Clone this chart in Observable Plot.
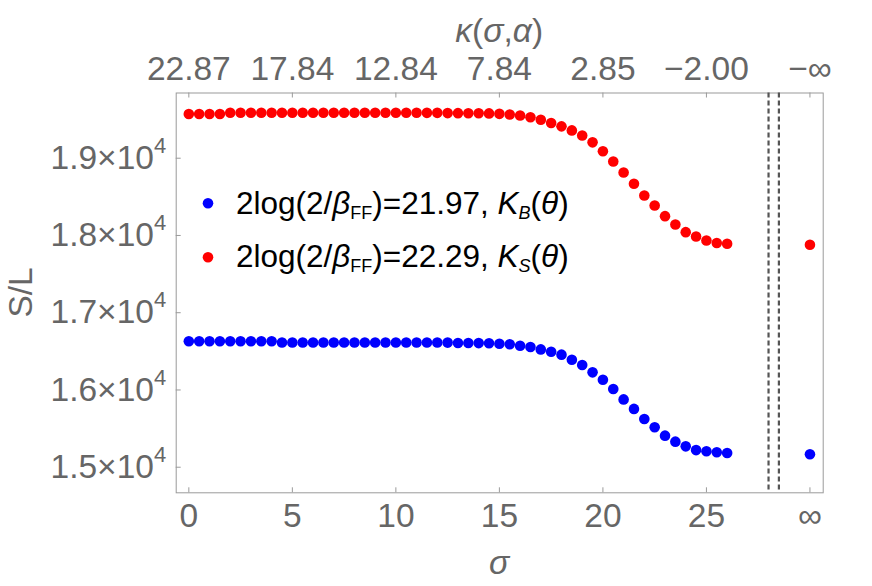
<!DOCTYPE html>
<html><head><meta charset="utf-8">
<script src="https://cdn.jsdelivr.net/npm/d3@7"></script>
<script src="https://cdn.jsdelivr.net/npm/@observablehq/plot@0.6"></script>
<style>body{margin:0;background:#fff}</style>
</head><body><div id="chart"></div>
<script>
// ---- data ----
const sigma = [0,0.5,1,1.5,2,2.5,3,3.5,4,4.5,5,5.5,6,6.5,7,7.5,8,8.5,9,9.5,10,10.5,11,11.5,12,12.5,13,13.5,14,14.5,15,15.5,16,16.5,17,17.5,18,18.5,19,19.5,20,20.5,21,21.5,22,22.5,23,23.5,24,24.5,25,25.5,26];
const redS = [19572,19572,19572,19572,19588,19588,19588,19588,19588,19588,19588,19588,19588,19588,19588,19588,19588,19588,19588,19588,19588,19588,19588,
  19587,19587,19584,19583,19582,19582,19580,19574,19565,19552,19530,19497,19455,19412,19360,19293,19205,19090,18957,18815,18669,18517,18388,18250,18142,18043,17987,17935,17902,17893];
const blueS = [16630,16630,16630,16630,16630,16630,16630,16630,16630,16614,16614,16614,16614,16614,16614,16614,16614,16614,16614,16614,16614,16614,16614,
  16614,16614,16613,16608,16608,16607,16605,16598,16592,16573,16556,16525,16495,16457,16392,16323,16228,16133,16013,15878,15755,15625,15517,15409,15331,15270,15222,15206,15193,15185];
const infX = 30;
const redInf = 17880, blueInf = 15168;
const xTicks = [0,5,10,15,20,25,30];
const bottomLabels = ["0","5","10","15","20","25","∞"];
const topLabels = ["22.87","17.84","12.84","7.84","2.85","−2.00","−∞"];
const yTicks = [15000,16000,17000,18000,19000];
const yMantissa = ["1.5","1.6","1.7","1.8","1.9"];
const yExponent = "4";
const dashedX = [28, 28.5];
const seriesColors = ["#ff0000","#0000ff"];

// ---- table ----
const pts = [];
sigma.forEach((s,i)=>{ pts.push({x:s,y:redS[i],c:seriesColors[0]}); pts.push({x:s,y:blueS[i],c:seriesColors[1]}); });
pts.push({x:infX,y:redInf,c:seriesColors[0]});
pts.push({x:infX,y:blueInf,c:seriesColors[1]});

const W=872,H=586, mL=175.7, mR=49.3, mT=92.5, mB=93.7;
const pw=W-mL-mR, ph=H-mT-mB;
const gray="#666", frameGray="#9a9a9a", FS=33.5;
const font="Liberation Sans, Arial, sans-serif";

const plot = Plot.plot({
  width:W, height:H,
  marginLeft:mL, marginRight:mR, marginTop:mT, marginBottom:mB,
  x:{domain:[-0.61,30.64]},
  y:{domain:[14669,19844]},
  style:{fontFamily:font, background:"#fff", overflow:"visible"},
  marks:[
    Plot.ruleX(xTicks,{x:d=>d, stroke:frameGray, insetTop:ph-5}),
    Plot.ruleX(xTicks,{x:d=>d, stroke:frameGray, insetBottom:ph-5}),
    Plot.ruleY(yTicks,{y:d=>d, stroke:frameGray, insetRight:pw-5}),
    Plot.frame({stroke:frameGray}),
    Plot.ruleX(dashedX,{x:d=>d, stroke:"#555", strokeWidth:2.2, strokeDasharray:"5,3"}),
    Plot.axisX(xTicks,{anchor:"bottom", tickSize:0, tickPadding:10, fontSize:FS, fill:gray, label:null,
      tickFormat:d=>bottomLabels[xTicks.indexOf(d)]}),
    Plot.axisX(xTicks,{anchor:"top", tickSize:0, tickPadding:13, fontSize:FS, fill:gray, label:null,
      tickFormat:d=>topLabels[xTicks.indexOf(d)]}),
    Plot.axisY(yTicks,{anchor:"left", tickSize:0, tickPadding:10, fontSize:FS, fill:gray, label:null,
      tickFormat:d=>yMantissa[yTicks.indexOf(d)]+"×10"}),
    Plot.dot(pts,{x:"x", y:"y", fill:"c", r:5.3})
  ]
});
document.getElementById("chart").appendChild(plot);

const svg = d3.select(plot);
// superscripts on y tick labels
svg.selectAll('[aria-label="y-axis tick label"] text').each(function(){
  d3.select(this).append("tspan").attr("font-size",22).attr("dy",-16).text(yExponent);
});

// axis titles
const t1 = svg.append("text").attr("x",(mL+W-mR)/2).attr("y",42).attr("text-anchor","middle")
  .attr("font-size",FS).attr("fill",gray).attr("font-family",font);
t1.append("tspan").attr("font-style","italic").text("κ");
t1.append("tspan").text("(");
t1.append("tspan").attr("font-style","italic").text("σ");
t1.append("tspan").text(",");
t1.append("tspan").attr("font-style","italic").text("α");
t1.append("tspan").text(")");

svg.append("text").attr("x",(mL+W-mR)/2).attr("y",574).attr("text-anchor","middle")
  .attr("font-size",FS).attr("fill",gray).attr("font-family",font).attr("font-style","italic").text("σ");

svg.append("text").attr("transform",`translate(32,${mT+ph/2}) rotate(-90)`).attr("text-anchor","middle")
  .attr("font-size",FS).attr("fill",gray).attr("font-family",font).text("S/L");

// legend
const legend = [
  {c:seriesColors[1], val:"21.97", K:"B", cy:203.3, base:213.5},
  {c:seriesColors[0], val:"22.29", K:"S", cy:257.3, base:266.5}
];
legend.forEach(l=>{
  svg.append("circle").attr("cx",208).attr("cy",l.cy).attr("r",5.3).attr("fill",l.c);
  const t = svg.append("text").attr("x",236).attr("y",l.base).attr("text-anchor","start")
    .attr("font-size",31.5).attr("fill","#000").attr("font-family",font);
  t.append("tspan").text("2log(2/");
  t.append("tspan").attr("font-style","italic").text("β");
  t.append("tspan").attr("font-size",18).attr("dy",5).text("FF");
  t.append("tspan").attr("dy",-5).text(")="+l.val+", ");
  t.append("tspan").attr("font-style","italic").text("K");
  t.append("tspan").attr("font-style","italic").attr("font-size",18).attr("dy",5).text(l.K);
  t.append("tspan").attr("dy",-5).text("(");
  t.append("tspan").attr("font-style","italic").text("θ");
  t.append("tspan").text(")");
});
</script>
</body></html>
